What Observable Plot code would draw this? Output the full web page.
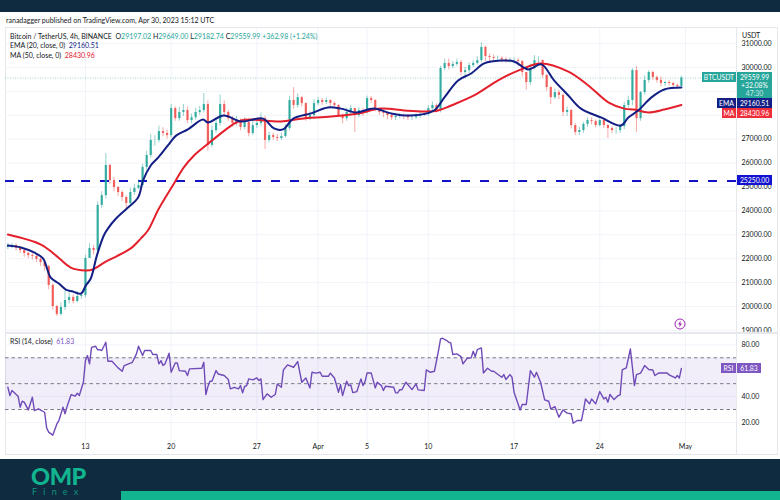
<!DOCTYPE html>
<html><head><meta charset="utf-8">
<script src="https://cdn.jsdelivr.net/npm/d3@7"></script>
<script src="https://cdn.jsdelivr.net/npm/@observablehq/plot@0.6"></script>
<style>
html,body{margin:0;padding:0;width:780px;height:500px;overflow:hidden;background:#fff;font-family:Lato,sans-serif;color:#131722}
.abs{position:absolute;white-space:nowrap}
.t{font-size:7px;line-height:10px}
.tag{position:absolute;color:#fff;font-size:6.8px;line-height:10px;text-align:center;white-space:nowrap}
svg{display:block}
.v{color:#26a69a}
</style></head><body>
<div class="abs" style="left:0;top:0;width:780px;height:12px;background:#0e2b3f"></div>
<div class="abs t" style="left:6px;top:15px">ranadagger published on TradingView.com, Apr 30, 2023 15:12 UTC</div>
<div class="abs" style="left:5px;top:27px;width:773px;height:428px;border:1px solid #e6e8ee;box-sizing:border-box"></div>
<div id="price" class="abs" style="left:0;top:28px"></div>
<div class="abs" style="left:5px;top:332px;width:773px;height:2px;background:#e6e8ee"></div>
<div id="rsi" class="abs" style="left:0;top:334px"></div>
<div class="abs" style="left:736px;top:27px;width:1px;height:428px;background:#e6e8ee"></div>
<div class="abs t" style="left:10px;top:31px">Bitcoin / TetherUS, 4h, BINANCE &nbsp;O<span class="v">29197.02</span> H<span class="v">29649.00</span> L<span class="v">29182.74</span> C<span class="v">29559.99</span> <span class="v">+362.98 (+1.24%)</span></div>
<div class="abs t" style="left:10px;top:40px">EMA (20, close, 0) &nbsp;<span style="color:#131f84">29160.51</span></div>
<div class="abs t" style="left:10px;top:50px">MA (50, close, 0) &nbsp;<span style="color:#e4202c">28430.96</span></div>
<div class="abs t" style="left:10px;top:336px">RSI (14, close) &nbsp;<span style="color:#7e57c2">61.83</span></div>
<div class="abs t" style="left:737px;top:28px;width:40px;height:12px;padding:2px 0 0 5px;box-sizing:border-box;background:#fff">USDT</div>
<div class="tag" style="left:702px;top:72px;width:34px;height:10px;background:#26a69a">BTCUSDT</div>
<div class="tag" style="left:737px;top:72px;width:35px;height:26px;line-height:8px;padding-top:1px;box-sizing:border-box;background:#26a69a">29559.99<br>+32.08%<br><span style="opacity:.75">47:30</span></div>
<div class="tag" style="left:717px;top:98px;width:19px;height:9.5px;background:#131f84">EMA</div>
<div class="tag" style="left:737px;top:98px;width:35px;height:9.5px;background:#131f84">29160.51</div>
<div class="tag" style="left:722px;top:107.5px;width:14px;height:10px;background:#ef2f3c">MA</div>
<div class="tag" style="left:737px;top:107.5px;width:35px;height:10px;background:#ef2f3c">28430.96</div>
<div class="tag" style="left:737px;top:175px;width:35px;height:10px;background:#1212d0">25250.00</div>
<div class="tag" style="left:721px;top:363px;width:15px;height:10px;background:#7e57c2">RSI</div>
<div class="tag" style="left:737px;top:363px;width:24px;height:10px;background:#7e57c2">61.83</div>
<svg class="abs" style="left:674px;top:318px" width="12" height="12" viewBox="0 0 12 12"><circle cx="6" cy="6" r="5" fill="#fff" stroke="#9c27b0" stroke-width="1"/><path d="M6.8 2.6 4 6.5h1.8L5.2 9.4 8 5.5H6.2z" fill="#9c27b0"/></svg>
<div class="abs" style="left:0;top:459px;width:780px;height:41px;background:#0e2b3f"></div>
<div class="abs" style="left:121px;top:491px;width:659px;height:9px;background:#12b48f"></div>
<div class="abs" style="left:31px;top:467px;font:900 23.5px/19px Lato,sans-serif;color:#12b48f;letter-spacing:-.4px">OMP</div>
<div class="abs" style="left:32px;top:486.5px;font:400 9px/9px Lato,sans-serif;color:#11927c;letter-spacing:6.2px">Finex</div>
<script>
const closes=[22510,22550,22430,22340,22220,22130,22090,21970,21840,21670,
20880,20000,19670,19960,20250,20380,20210,20420,20460,22010,
22430,22340,24230,24640,25900,25270,24980,24770,24560,24310,
24770,24940,25060,25820,26320,26950,26950,27320,27240,27150,
28280,27860,28120,28200,27780,27900,28120,28200,28450,26740,
27360,27660,28450,28120,27860,27660,27780,27490,27700,27240,
27570,27660,27860,26950,27150,27070,27030,27110,27450,28620,
28410,28740,28490,27860,27990,28490,28620,28540,28620,28490,
28410,27990,27860,28120,28280,27990,28200,28120,28700,28620,
28280,28120,28080,27990,27900,27950,27990,27950,27900,27900,
27950,27990,28030,28280,28410,28200,29960,30170,30040,30130,
30210,29790,29870,30080,30170,30290,30840,30460,30420,30380,
30380,30330,30290,30290,30290,30250,29790,29370,29960,30290,
30290,29670,29160,28740,28950,28830,28120,28200,27570,27280,
27360,27620,27780,27740,27570,27780,27570,27450,27360,27360,
27530,28410,28620,29870,27860,28950,29460,29790,29580,29460,
29330,29370,29330,29250,29210,29560];
const highs=[22640,22640,22620,22480,22400,22280,22210,22180,22040,21900,
21720,20950,20050,20150,20750,20650,20480,20620,20560,22150,
22620,22560,24380,24800,26400,25950,25400,25020,24850,24620,
24950,25120,25300,25950,26500,27200,27150,27550,27480,27380,
28450,28350,28320,28450,28350,28050,28300,28380,28910,28600,
27550,27900,28850,28600,28200,27950,27950,27850,27900,27800,
27750,27850,28100,27950,27300,27250,27200,27250,27600,28800,
29160,28900,28780,28520,28150,28650,28750,28700,28720,28650,
28560,28450,28050,28300,28420,28300,28320,28280,28800,28780,
28650,28300,28200,28120,28050,28080,28080,28050,28020,28020,
28060,28120,28150,28400,28560,28480,30050,30350,30350,30250,
30350,30300,30000,30200,30280,30450,31040,30900,30560,30520,
30480,30450,30420,30400,30400,30380,30300,29800,30150,30500,
30450,30320,29700,29200,29100,29050,28900,28350,28250,27650,
27500,27700,27900,27900,27800,27920,27850,27620,27520,27480,
27620,28550,28800,29950,30040,29000,29650,29870,29850,29650,
29600,29420,29450,29380,29300,29649];
const lows=[22380,22420,22320,22220,22060,22000,21950,21840,21680,21480,
20700,19850,19580,19600,19830,20100,20100,20150,20300,20350,
22050,22150,22200,24100,24500,25100,24800,24600,24400,24100,
24250,24650,24900,25000,25700,26200,26700,26850,27100,27000,
27050,27750,27750,27950,27650,27650,27800,28000,28100,26500,
26650,27250,27550,27950,27750,27500,27550,27350,27400,27100,
27150,27450,27550,26570,26850,26950,26900,26950,27050,27350,
28250,28300,28350,27750,27780,27900,28400,28420,28450,28350,
28300,27900,27650,27750,28000,27280,27900,27950,28050,28500,
28150,28000,27900,27820,27780,27780,27850,27820,27780,27780,
27820,27880,27950,27950,28150,28100,28100,29850,29900,29950,
30050,29650,29650,29750,30000,30100,30200,30250,30250,30250,
30250,30200,30180,30180,30150,30050,29600,29050,29250,29900,
30100,29550,29000,28450,28650,28650,27950,27950,27430,27150,
27150,27250,27500,27600,27480,27500,27450,27030,27230,27200,
27250,27400,28300,28400,27280,27750,28850,29350,29450,29350,
29200,29200,29230,29150,29100,29182];
const emaStep=[0,3.2,6.4,8.6,10.5,12.5,14.2,15.9,17.9,19.1,20.3,21.8,23.5,24.5,26.5,28.9,31.9,33.1,35,36.8,39.2,41.2,44.1,47.8,49,52.9,57.1,62.5,65.2,67.4,69.9,74.3,78.4,81.6,85.3,89.7,93.9,98.8,104.4,106.9,110.3,113.5,116.7,120.8,124,127.5,130.7,133.8,137.3,140.4,145.3,150.2,152,154.4,157.6,160.8,165];
const emaVal=[22550,22470,22260,22010,21210,20960,20710,20630,20540,20880,21170,22130,22970,23260,23680,24060,24560,25270,25900,26230,26740,27150,27410,27820,27700,27990,27740,27860,27450,27410,27860,28080,28330,28280,28120,28280,28080,27990,28200,28740,29460,29750,30170,30290,30250,29920,30130,29460,28830,28280,27910,27570,27910,28200,28740,29080,29160];
const maStep=[0,8.1,11.8,15.4,19.1,20.8,24,26.5,30.1,32.6,34.3,37,40.7,43.1,45.6,48.5,51.5,54.7,57.1,59.6,66.9,71.8,79.2,85.8,91.4,97.1,102,105.4,108.6,114.2,120.1,125,130.6,137.3,142.2,147.1,151,153.4,156.9,160.8,165];
const maVal=[23010,22590,22130,21630,21510,21550,21880,22090,22430,22850,23180,24100,25150,25820,26320,26740,27150,27570,27780,27820,27740,27860,27950,28080,28280,28200,28160,28200,28410,28830,29460,29870,30170,29830,29250,28540,28280,28240,28120,28240,28431];
const rsiStep=[0,1,2,5,6,7,8,10,12,13,15,18,19,20,22,24,25,27,28,29,31,33,34,35,37,38,39,40,41,43,44,45,46,48,49,51,54,56,57,61,63,64,66,67,70,71,73,74,75,76,77,79,80,82,83,84,87,88,89,95,96,97,98,99,100,102,103,106,108,109,111,113,114,115,116,117,118,120,122,123,
124,125,127,129,131,132,134,135,137,140,142,144,146,148,149,151,153,154,157,158,160,162,163,164,166,167,168,169,171,173,174,175,176,178,180,181,183,184,185,189,190,191,192,193,195,198,200,201,204,205,207,209,211,212,213,215,216,217,218,220,222,223,225,227,228,229,230,232,233,235,237,238,242,243,244,246,247,248,251,
252,254,256,258,259,261,263,265,266,268,270,272,274,276,277,279,281,282,283,285,286,288,290,292,293,294,295,297,299,300,301,303,305,307,308,310,312,314,316,317,319,323,324,327,328,329,330];
const rsiVal=[47.2,40.8,44.7,40.3,31.8,36.4,35.7,29.7,39.5,29.2,30.5,27.9,15.8,12.5,10.2,18.9,21.5,31.8,26.7,32.3,41.6,40.3,42.6,40.8,51.1,67.8,71.7,65.3,78.1,78.9,76.1,76.3,75.6,82,67.3,67.3,62.2,59.6,64,66.5,73,78.9,71.7,75.6,75.6,72.5,72.5,65.3,67.8,64,65.3,73.5,58.8,66,66,60.1,59.6,56.3,61.4,61.9,66.5,41.6,47.8,51.9,51.9,60.1,57.5,56.3,53.2,46,47.2,46,48.5,42.9,47.8,48.5,53.7,52.9,54.4,52.4,
53.7,37.7,42.1,39.5,41.6,49.8,47.2,60.6,64.5,62.7,67.1,51.1,54.4,46.7,58.8,58.1,58.8,55.7,55.7,58.1,54.4,43.4,49.3,40.8,51.9,48.5,49,43.1,43.9,53.7,48.5,51.6,58.3,58.3,46.7,51.1,48.5,44.7,48,47.2,42.9,42.9,45.4,45.2,51.1,45.4,49.8,45.2,44.7,60.6,58.8,59.6,75.6,84.6,85.1,83.3,82,81.5,72.5,73,70.9,65.3,69.6,69.9,75,70.9,76.3,77.6,58.3,61.9,59.6,59.6,55,57,53.2,57,55,43.4,29.7,
33.9,33.9,60.1,55,58.8,51.1,37.5,36.4,30.5,32.3,24.1,29.7,27.2,26.7,19.4,21.5,21.5,29.2,38.2,34.4,38.2,34.4,43.9,38.2,39.5,35.7,41.6,37.7,40.8,41.3,60.6,62.2,76.8,48.5,57,58.1,64,60.9,60.6,56.3,58.3,58.3,56.8,54.4,56.3,54.4,61.83];
const priceTicks=[19000,20000,21000,22000,23000,24000,25000,26000,27000,28000,29000,30000,31000];
const priceLabels=[19000,20000,21000,22000,23000,24000,25000,26000,27000,30000,31000];
const rsiTicks=[20,40,80];
const rsiBands=[30,50,70];
const timeTicks=["2023-03-13","2023-03-20","2023-03-27","2023-04-01","2023-04-05","2023-04-10","2023-04-17","2023-04-24","2023-05-01"];
const timeLabels=["13","20","27","Apr","5","10","17","24","May"];
const supportLevel=[25250], lastClose=[29559.99];

const H=3600e3, t0=+new Date("2023-03-06T16:00:00Z");
const T=(s,h)=>new Date(t0+s*h*H);
const tickD=timeTicks.map(d=>new Date(d+"T00:00:00Z"));
const xDom=[new Date("2023-03-06T11:20:00Z"),new Date("2023-05-05T04:00:00Z")];
const opens=closes.map((c,i)=>i?closes[i-1]:22480);
const candles=closes.map((c,i)=>({t:T(i,8),o:opens[i],h:highs[i],l:lows[i],c}));
const clr=d=>d.c>=d.o?"#26a69a":"#ef5350";
const xOpt={type:"time",domain:xDom};
const font={fontFamily:"Lato,sans-serif",fontSize:"7px",background:"transparent",overflow:"visible"};
const ink="#131722", gridC="#f0f3fa";

document.getElementById("price").append(Plot.plot({
  width:780,height:304,marginLeft:5,marginRight:44,marginTop:0,marginBottom:0,style:font,
  x:{...xOpt,axis:null},
  y:{domain:[18912,31632],label:null},
  marks:[
    Plot.ruleY(priceTicks,{stroke:gridC,strokeWidth:1}),
    Plot.ruleX(tickD,{stroke:gridC,strokeWidth:1}),
    Plot.axisY({anchor:"right",ticks:priceLabels,tickSize:0,tickPadding:5,tickFormat:d=>d.toFixed(2),label:null,fill:ink}),
    Plot.ruleY(lastClose,{stroke:"#26a69a",strokeOpacity:.45,strokeDasharray:"1,1.5"}),
    Plot.ruleY(supportLevel,{stroke:"#1212c8",strokeWidth:2,strokeDasharray:"9,10"}),
    Plot.ruleX(candles,{x:"t",y1:"l",y2:"h",stroke:clr,strokeWidth:1,strokeOpacity:.5}),
    Plot.ruleX(candles,{x:"t",y1:"o",y2:"c",stroke:clr,strokeWidth:2.2,strokeOpacity:.9}),
    Plot.lineY(maVal,{x:(d,i)=>T(maStep[i],8),y:d=>d,stroke:"#e4202c",strokeWidth:2,curve:"catmull-rom"}),
    Plot.lineY(emaVal,{x:(d,i)=>T(emaStep[i],8),y:d=>d,stroke:"#131f84",strokeWidth:2,curve:"catmull-rom"})
  ]
}));
if(rsiStep.length!==rsiVal.length) throw new Error("rsi "+rsiStep.length+" "+rsiVal.length);
document.getElementById("rsi").append(Plot.plot({
  width:780,height:121,marginLeft:5,marginRight:44,marginTop:0,marginBottom:14,style:font,
  x:{...xOpt,label:null},
  y:{domain:[5.3,88],label:null},
  marks:[
    Plot.ruleY(rsiTicks,{stroke:gridC}),
    Plot.ruleX(tickD,{stroke:gridC}),
    Plot.rectY([{}],{y1:()=>30,y2:()=>70,fill:"#7e57c2",fillOpacity:.1}),
    Plot.ruleY(rsiBands,{stroke:"#787b86",strokeWidth:1,strokeDasharray:"3.5,3"}),
    Plot.axisY({anchor:"right",ticks:rsiTicks,tickSize:0,tickPadding:5,tickFormat:d=>d.toFixed(2),label:null,fill:ink}),
    Plot.axisX({ticks:tickD,tickSize:0,tickPadding:3,tickFormat:d=>timeLabels[tickD.findIndex(v=>+v===+d)],label:null,fill:ink}),
    Plot.lineY(rsiVal,{x:(d,i)=>T(rsiStep[i],4),y:d=>d,stroke:"#6f4bb8",strokeWidth:1.4})
  ]
}));
</script></body></html>
